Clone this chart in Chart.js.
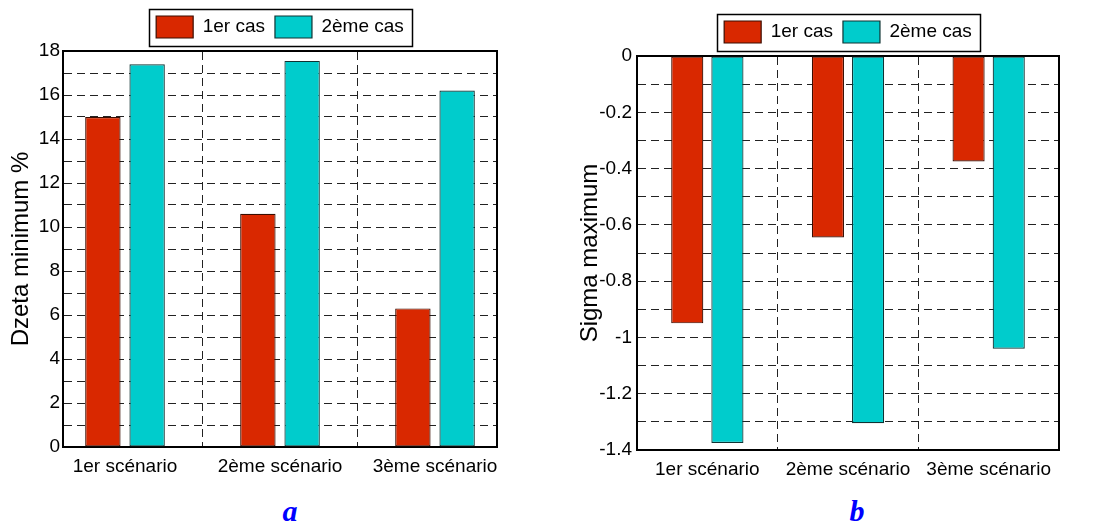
<!DOCTYPE html>
<html><head><meta charset="utf-8">
<script src="https://cdn.jsdelivr.net/npm/chart.js@4/dist/chart.umd.min.js"></script>
<style>
html,body{margin:0;padding:0;background:#fff;}
body{width:1094px;height:529px;position:relative;overflow:hidden;}
canvas{position:absolute;top:0;}
#ca{left:0;} #cb{left:540px;}
.lab{position:absolute;top:496px;width:40px;text-align:center;font:bold italic 30px "Liberation Serif","DejaVu Serif",serif;color:#0000ff;line-height:30px;}
</style></head><body>
<canvas id="ca" width="540" height="490"></canvas>
<canvas id="cb" width="554" height="490"></canvas>
<div class="lab" style="left:270px">a</div>
<div class="lab" style="left:837px">b</div>
<script>
const FONT = '"Liberation Sans", Arial, sans-serif';
Chart.defaults.font.family = FONT;
Chart.defaults.color = '#000';

const categories = ['1er scénario', '2ème scénario', '3ème scénario'];
const seriesNames = ['1er cas', '2ème cas'];
const dzetaCas1 = [15.0, 10.6, 6.3];
const dzetaCas2 = [17.4, 17.55, 16.2];
const sigmaCas1 = [-0.95, -0.645, -0.375];
const sigmaCas2 = [-1.375, -1.305, -1.04];
const dzetaTickLabels = ['0','2','4','6','8','10','12','14','16','18'];
const sigmaTickLabels = ['0','-0.2','-0.4','-0.6','-0.8','-1','-1.2','-1.4'];
const seriesColors = ['#d92800', '#00cccc'];
const seriesEdges = ['#3a0d00', '#0f3333'];

function pts(vals){ return vals.map((v,i)=>({x:i+1, y:v})); }

const legendFrame = {
  id:'legendFrame',
  afterDraw(chart){
    const lg = chart.legend;
    if(!lg || !lg.legendHitBoxes || !lg.legendHitBoxes.length) return;
    const hb = lg.legendHitBoxes;
    const l = Math.min(...hb.map(h=>h.left)) - 7;
    const r = Math.max(...hb.map(h=>h.left+h.width)) + 8;
    const t = Math.min(...hb.map(h=>h.top)) - 7;
    const b = Math.max(...hb.map(h=>h.top+h.height)) + 8;
    const ctx = chart.ctx;
    ctx.save();
    ctx.strokeStyle = '#000'; ctx.lineWidth = 1.5;
    ctx.strokeRect(Math.round(l)+0.5, Math.round(t)+0.5, Math.round(r-l), Math.round(b-t));
    ctx.restore();
  }
};

function makeChart(id, o){
  const datasets = [o.v1, o.v2].map((vals, k) => ({
    label: seriesNames[k], data: pts(vals), xAxisID:'x', yAxisID:'y',
    backgroundColor: seriesColors[k], borderColor: seriesEdges[k], borderWidth:1.2,
    categoryPercentage: 0.571, barPercentage: 0.8, borderSkipped:false
  }));
  const nSteps = Math.round((o.yMax - o.yMin)/o.yStep);
  const labelVals = o.tickLabels.map(Number);
  return new Chart(document.getElementById(id), {
    type:'bar',
    data:{datasets},
    options:{
      responsive:false, animation:false,
      layout:{padding:{top:o.padTop, left:0, right:0, bottom:0}},
      plugins:{
        legend:{ position:'top', fullSize:false,
          labels:{boxWidth:37, boxHeight:22, padding:10, font:{size:19}, color:'#000'} },
        tooltip:{enabled:false}
      },
      scales:{
        x:{ type:'linear', position:'bottom', min:o.xMin, max:o.xMax, offset:false,
          afterBuildTicks: s => { s.ticks = categories.map((c,i)=>({value:i+1})); },
          ticks:{ autoSkip:false, maxRotation:0, padding:8, font:{size:19}, color:'#000',
            callback: v => categories[Math.round(v)-1] ?? '' },
          grid:{display:false, drawTicks:false, offset:false},
          border:{display:true, color:'#000', width:2},
          afterFit: s => { s.height = o.xHeight; } },
        xTop:{ type:'linear', position:'top', min:o.xMin, max:o.xMax, offset:false, z:1,
          afterBuildTicks: s => { s.ticks = categories.slice(1).map((c,i)=>({value:i+1.5})); },
          ticks:{display:false},
          grid:{display:true, offset:false, drawTicks:false, color:'#222', lineWidth:1},
          border:{display:true, color:'#000', width:2, dash:[8,5]},
          afterFit: s => { s.height = 3; } },
        y:{ type:'linear', position:'left', min:o.yMin, max:o.yMax,
          afterBuildTicks: s => { s.ticks = []; for(let i=0;i<=nSteps;i++) s.ticks.push({value: +(o.yMin + i*o.yStep).toFixed(6)}); },
          ticks:{ autoSkip:false, padding:o.yPad, font:{size:19}, color:'#000',
            callback: v => { const j = labelVals.findIndex(t=>Math.abs(t-v)<1e-6); return j>=0 ? o.tickLabels[j] : ''; } },
          grid:{color:'#222', lineWidth:1, drawTicks:false},
          border:{display:true, color:'#000', width:2, dash:[8,5]},
          title:{display:true, text:o.title, font:{size:24}, color:'#000', padding:{top:o.titlePad, bottom:0}},
          afterFit: s => { s.width = o.yWidth; } },
        yRight:{ type:'linear', position:'right', min:o.yMin, max:o.yMax, z:1,
          ticks:{display:false}, grid:{display:false, drawTicks:false},
          border:{display:true, color:'#000', width:2},
          afterFit: s => { s.width = o.rWidth; } }
      }
    },
    plugins:[legendFrame]
  });
}

makeChart('ca', {v1:dzetaCas1, v2:dzetaCas2, tickLabels:dzetaTickLabels, title:'Dzeta minimum %',
  padTop:6, xMin:0.6, xMax:3.4, yMin:0, yMax:18, yStep:1, yWidth:63, yPad:3, titlePad:7, rWidth:43, xHeight:43});
makeChart('cb', {v1:sigmaCas1, v2:sigmaCas2, tickLabels:sigmaTickLabels, title:'Sigma maximum',
  padTop:11, xMin:0.5, xMax:3.5, yMin:-1.4, yMax:0, yStep:0.1, yWidth:97, yPad:5, titlePad:36, rWidth:35, xHeight:40});
</script>
</body></html>
